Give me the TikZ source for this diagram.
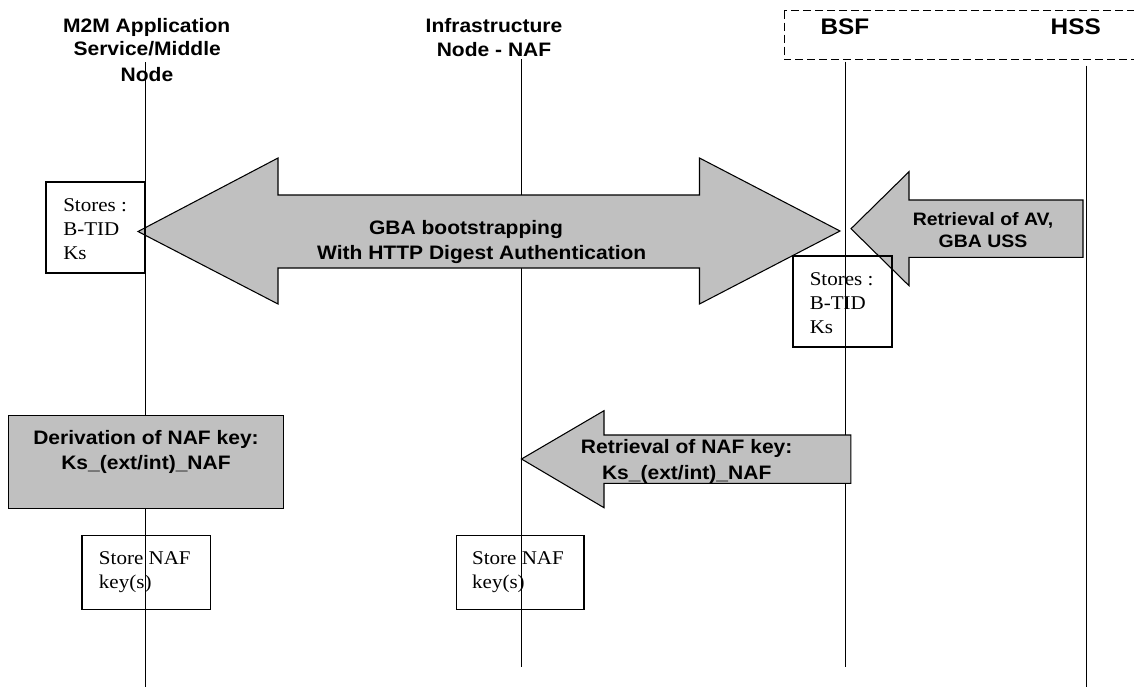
\documentclass[tikz,border=0pt]{standalone}
\usepackage{fontspec}
\setmainfont{Liberation Serif}[FakeStretch=1.08]
\setsansfont{Liberation Sans}[FakeStretch=1.08]
\usetikzlibrary{calc}
\definecolor{arrowgray}{HTML}{C0C0C0}
\tikzset{
  lifeline/.style={line width=0.75pt},
  hdr/.style={font=\sffamily\bfseries\fontsize{14.6}{17}\selectfont, inner sep=0pt, anchor=base},
  bighdr/.style={font=\sffamily\bfseries\fontsize{16.9}{19}\selectfont, inner sep=0pt, anchor=base},
  lbl/.style={font=\sffamily\bfseries\fontsize{14.6}{17}\selectfont, inner sep=0pt, anchor=base},
  smalllbl/.style={font=\sffamily\bfseries\fontsize{13.5}{16}\selectfont, inner sep=0pt, anchor=base},
  note/.style={font=\rmfamily\fontsize{14.6}{17}\selectfont, inner sep=0pt, anchor=base west},
  blockarrow/.style={fill=arrowgray, draw=black, line width=0.8pt, line join=miter},
  storebox/.style={draw=black, line width=1.1pt},
  groupbox/.style={draw=black, line width=0.75pt, dash pattern=on 6pt off 3pt},
}
\begin{document}
\begin{tikzpicture}[x=0.75pt,y=-0.75pt]
\useasboundingbox (0,0) rectangle (1134,686);

% lifelines
\coordinate (l1top) at (145,62);    \coordinate (l1bot) at (145,692);
\coordinate (l2top) at (521.7,59);  \coordinate (l2bot) at (521.7,666.7);
\coordinate (l3top) at (845.5,61.7);\coordinate (l3bot) at (845.5,666.7);
\coordinate (l4top) at (1086,65.7); \coordinate (l4bot) at (1086,692);
\draw[lifeline] (l1top) -- (l1bot);
\draw[lifeline] (l2top) -- (l2bot);
\draw[lifeline] (l3top) -- (l3bot);
\draw[lifeline] (l4top) -- (l4bot);

% dashed group box round BSF and HSS
\draw[groupbox] (784,10.7) rectangle (1145,59.3);

% GBA bootstrapping double block arrow
\draw[blockarrow] (138,231.5) -- (278,158) -- (278,195) -- (699.5,195) -- (699.5,158)
  -- (840,231) -- (699.5,304) -- (699.5,268) -- (278,268) -- (278,304) -- cycle;

% Retrieval of AV block arrow
\draw[blockarrow] (851,228.7) -- (909,171.7) -- (909,200) -- (1083,200) -- (1083,257.3)
  -- (909,257.3) -- (909,285.7) -- cycle;

% Derivation box
\draw[storebox, fill=arrowgray] (8.6,415.7) rectangle (283.6,508.3);

% Retrieval of NAF key block arrow
\draw[blockarrow] (521.5,459) -- (604,410.7) -- (604,435) -- (850.8,435) -- (850.8,483.3)
  -- (604,483.3) -- (604,507.7) -- cycle;

% store boxes
\draw[storebox] (46,182) rectangle (145,273);
\draw[storebox] (793,256) rectangle (892,347);
\draw[storebox] (82,535.7) rectangle (210.7,609.3);
\draw[storebox] (456.4,535.7) rectangle (583.8,609.3);

% headers
\node[hdr] (t1a) at (146.7,32.3) {M2M Application};
\node[hdr] (t1b) at (147.2,55.7) {Service/Middle};
\node[hdr] (t1c) at (147,81.7) {Node};
\node[hdr] (t2a) at (494,32.3) {Infrastructure};
\node[hdr] (t2b) at (494,56) {Node - NAF};
\node[bighdr] (bsf) at (845,34.3) {BSF};
\node[bighdr] (hss) at (1075.7,34.3) {HSS};

% store box texts
\node[note] (s1a) at (63,211.7) {Stores :};
\node[note] (s1b) at (63,235.3) {B-TID};
\node[note] (s1c) at (63,259.7) {Ks};
\node[note] (s2a) at (809.5,285.3) {Stores :};
\node[note] (s2b) at (809.5,309.3) {B-TID};
\node[note] (s2c) at (809.5,333.7) {Ks};

% arrow labels
\node[lbl] (gba1) at (466,234) {GBA bootstrapping};
\node[lbl] (gba2) at (481.7,259.3) {With HTTP Digest Authentication};
\node[smalllbl] (av1) at (983,225) {Retrieval of AV,};
\node[smalllbl] (av2) at (983,247.7) {GBA USS};
\node[lbl] (der1) at (146,444) {Derivation of NAF key:};
\node[lbl] (der2) at (146,469.3) {Ks\_(ext/int)\_NAF};
\node[lbl] (ret1) at (686.7,453.3) {Retrieval of NAF key:};
\node[lbl] (ret2) at (686.7,479) {Ks\_(ext/int)\_NAF};

% store NAF key texts
\node[note] (k1a) at (98.7,564) {Store NAF};
\node[note] (k1b) at (98.7,588.3) {key(s)};
\node[note] (k2a) at (471.9,564) {Store NAF};
\node[note] (k2b) at (471.9,588.3) {key(s)};
\end{tikzpicture}
\end{document}
